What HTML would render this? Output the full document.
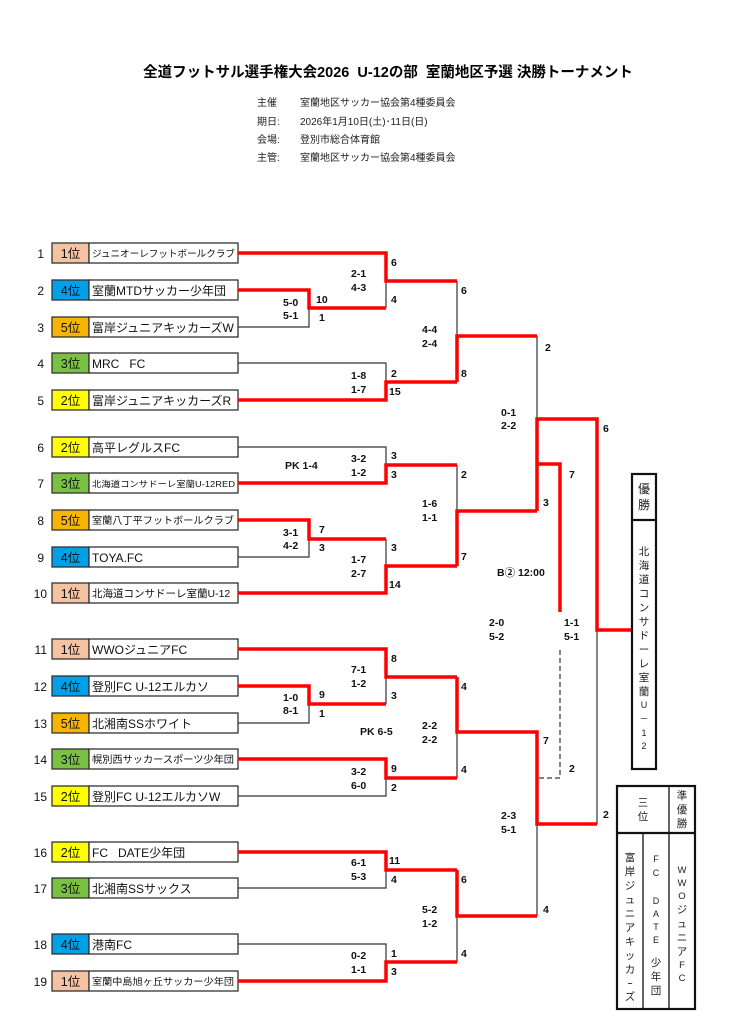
<!DOCTYPE html>
<html><head><meta charset="utf-8"><style>
body{margin:0;background:#fff;}
svg text{font-family:"Liberation Sans","Noto Sans CJK JP",sans-serif;}
.s{font-size:10.5px;font-weight:bold;fill:#111}
.n{font-size:12px;fill:#111}
.r{font-size:12.5px;fill:#111}
.t{font-size:12px;fill:#111}
.v{font-size:10.5px;fill:#222}
</style></head><body>
<svg width="746" height="1024" viewBox="0 0 746 1024" xmlns="http://www.w3.org/2000/svg">
<text x="388" y="77" text-anchor="middle" style="font-size:14.5px;font-weight:bold">全道フットサル選手権大会2026&#160;&#160;U-12の部&#160;&#160;室蘭地区予選 決勝トーナメント</text>
<g style="font-size:10px" fill="#222">
<text x="257" y="106">主催</text><text x="300" y="106">室蘭地区サッカー協会第4種委員会</text>
<text x="257" y="125">期日:</text><text x="300" y="125">2026年1月10日(土)･11日(日)</text>
<text x="257" y="143">会場:</text><text x="300" y="143">登別市総合体育館</text>
<text x="257" y="161">主管:</text><text x="300" y="161">室蘭地区サッカー協会第4種委員会</text>
</g>

<g stroke="#333" stroke-width="1.3">
<rect x="52" y="243" width="37" height="20" fill="#f4c3a4"/><rect x="89" y="243" width="149" height="20" fill="#fff"/>
<rect x="52" y="280" width="37" height="20" fill="#00a0e9"/><rect x="89" y="280" width="149" height="20" fill="#fff"/>
<rect x="52" y="317" width="37" height="20" fill="#f7b500"/><rect x="89" y="317" width="149" height="20" fill="#fff"/>
<rect x="52" y="353" width="37" height="20" fill="#7ac143"/><rect x="89" y="353" width="149" height="20" fill="#fff"/>
<rect x="52" y="390" width="37" height="20" fill="#ffff00"/><rect x="89" y="390" width="149" height="20" fill="#fff"/>
<rect x="52" y="437" width="37" height="20" fill="#ffff00"/><rect x="89" y="437" width="149" height="20" fill="#fff"/>
<rect x="52" y="473" width="37" height="20" fill="#7ac143"/><rect x="89" y="473" width="149" height="20" fill="#fff"/>
<rect x="52" y="510" width="37" height="20" fill="#f7b500"/><rect x="89" y="510" width="149" height="20" fill="#fff"/>
<rect x="52" y="547" width="37" height="20" fill="#00a0e9"/><rect x="89" y="547" width="149" height="20" fill="#fff"/>
<rect x="52" y="583" width="37" height="20" fill="#f4c3a4"/><rect x="89" y="583" width="149" height="20" fill="#fff"/>
<rect x="52" y="639" width="37" height="20" fill="#f4c3a4"/><rect x="89" y="639" width="149" height="20" fill="#fff"/>
<rect x="52" y="676" width="37" height="20" fill="#00a0e9"/><rect x="89" y="676" width="149" height="20" fill="#fff"/>
<rect x="52" y="713" width="37" height="20" fill="#f7b500"/><rect x="89" y="713" width="149" height="20" fill="#fff"/>
<rect x="52" y="749" width="37" height="20" fill="#7ac143"/><rect x="89" y="749" width="149" height="20" fill="#fff"/>
<rect x="52" y="786" width="37" height="20" fill="#ffff00"/><rect x="89" y="786" width="149" height="20" fill="#fff"/>
<rect x="52" y="842" width="37" height="20" fill="#ffff00"/><rect x="89" y="842" width="149" height="20" fill="#fff"/>
<rect x="52" y="878" width="37" height="20" fill="#7ac143"/><rect x="89" y="878" width="149" height="20" fill="#fff"/>
<rect x="52" y="934" width="37" height="20" fill="#00a0e9"/><rect x="89" y="934" width="149" height="20" fill="#fff"/>
<rect x="52" y="971" width="37" height="20" fill="#f4c3a4"/><rect x="89" y="971" width="149" height="20" fill="#fff"/>
</g>
<g class="n" text-anchor="end">
<text x="44" y="258">1</text><text x="44" y="295">2</text><text x="44" y="332">3</text><text x="44" y="368">4</text><text x="44" y="405">5</text>
<text x="44" y="452">6</text><text x="44" y="488">7</text><text x="44" y="525">8</text><text x="44" y="562">9</text><text x="47" y="598">10</text>
<text x="47" y="654">11</text><text x="47" y="691">12</text><text x="47" y="728">13</text><text x="47" y="764">14</text><text x="47" y="801">15</text>
<text x="47" y="857">16</text><text x="47" y="893">17</text><text x="47" y="949">18</text><text x="47" y="986">19</text>
</g>
<g class="r" text-anchor="middle">
<text x="70.5" y="258">1位</text><text x="70.5" y="295">4位</text><text x="70.5" y="332">5位</text><text x="70.5" y="368">3位</text><text x="70.5" y="405">2位</text>
<text x="70.5" y="452">2位</text><text x="70.5" y="488">3位</text><text x="70.5" y="525">5位</text><text x="70.5" y="562">4位</text><text x="70.5" y="598">1位</text>
<text x="70.5" y="654">1位</text><text x="70.5" y="691">4位</text><text x="70.5" y="728">5位</text><text x="70.5" y="764">3位</text><text x="70.5" y="801">2位</text>
<text x="70.5" y="857">2位</text><text x="70.5" y="893">3位</text><text x="70.5" y="949">4位</text><text x="70.5" y="986">1位</text>
</g>
<g class="t">
<text x="92" y="257" style="font-size:9.7px" textLength="143" lengthAdjust="spacingAndGlyphs">ジュニオーレフットボールクラブ</text>
<text x="92" y="295">室蘭MTDサッカー少年団</text>
<text x="92" y="332">富岸ジュニアキッカーズW</text>
<text x="92" y="368">MRC&#160;&#160;&#160;FC</text>
<text x="92" y="405">富岸ジュニアキッカーズR</text>
<text x="92" y="452">高平レグルスFC</text>
<text x="92" y="487" style="font-size:8.5px" textLength="143" lengthAdjust="spacingAndGlyphs">北海道コンサドーレ室蘭U-12RED</text>
<text x="92" y="524" style="font-size:10px" textLength="142" lengthAdjust="spacingAndGlyphs">室蘭八丁平フットボールクラブ</text>
<text x="92" y="562">TOYA.FC</text>
<text x="92" y="597" style="font-size:10.5px">北海道コンサドーレ室蘭U-12</text>
<text x="92" y="654">WWOジュニアFC</text>
<text x="92" y="691">登別FC U-12エルカソ</text>
<text x="92" y="728">北湘南SSホワイト</text>
<text x="92" y="763" style="font-size:10px" textLength="142" lengthAdjust="spacingAndGlyphs">幌別西サッカースポーツ少年団</text>
<text x="92" y="801">登別FC U-12エルカソW</text>
<text x="92" y="857">FC&#160;&#160;&#160;DATE少年団</text>
<text x="92" y="893">北湘南SSサックス</text>
<text x="92" y="949">港南FC</text>
<text x="92" y="985" style="font-size:9.5px" textLength="142" lengthAdjust="spacingAndGlyphs">室蘭中島旭ヶ丘サッカー少年団</text>
</g>

<g stroke="#333" stroke-width="1.2" fill="none">
<polyline points="238,327 309,327 309,308"/>
<line x1="386" y1="281" x2="386" y2="308"/>
<polyline points="238,363 386,363 386,382"/>
<line x1="457" y1="281" x2="457" y2="336"/>
<polyline points="238,447 386,447 386,465"/>
<polyline points="238,557 309,557 309,539"/>
<line x1="386" y1="539" x2="386" y2="566"/>
<line x1="457" y1="465" x2="457" y2="511"/>
<line x1="537" y1="336" x2="537" y2="419"/>
<polyline points="238,723 309,723 309,704"/>
<line x1="386" y1="677" x2="386" y2="704"/>
<polyline points="238,796 386,796 386,778"/>
<line x1="457" y1="732" x2="457" y2="778"/>
<polyline points="238,888 386,888 386,870"/>
<polyline points="238,944 386,944 386,962"/>
<line x1="457" y1="916" x2="457" y2="962"/>
<line x1="537" y1="824" x2="537" y2="916"/>
<line x1="597" y1="630" x2="597" y2="824"/>
</g>
<g stroke="#333" stroke-width="1.2" fill="none" stroke-dasharray="5,3">
<polyline points="560,650 560,778 537,778"/>
</g>

<g stroke="#ff0000" stroke-width="3.5" fill="none" stroke-linejoin="miter">
<polyline points="238,290 309,290 309,308 386,308"/>
<polyline points="238,253 386,253 386,281 457,281"/>
<polyline points="238,400 386,400 386,382 457,382"/>
<polyline points="457,382 457,336 537,336"/>
<polyline points="238,483 386,483 386,465 457,465"/>
<polyline points="238,520 309,520 309,539 386,539"/>
<polyline points="238,593 386,593 386,566 457,566"/>
<polyline points="457,566 457,511 537,511"/>
<polyline points="537,511 537,419 597,419 597,630 632,630"/>
<polyline points="537,464 560,464 560,612"/>
<polyline points="238,686 309,686 309,704 386,704"/>
<polyline points="238,649 386,649 386,677 457,677"/>
<polyline points="238,759 386,759 386,778 457,778"/>
<polyline points="457,677 457,732 537,732 537,824 597,824"/>
<polyline points="238,852 386,852 386,870 457,870"/>
<polyline points="238,981 386,981 386,962 457,962"/>
<polyline points="457,870 457,916 537,916"/>
</g>

<g class="s">
<text x="283" y="306">5-0</text><text x="283" y="319">5-1</text><text x="316" y="303">10</text><text x="319" y="321">1</text>
<text x="351" y="277">2-1</text><text x="351" y="291">4-3</text><text x="391" y="266">6</text><text x="391" y="303">4</text>
<text x="351" y="379">1-8</text><text x="351" y="393">1-7</text><text x="391" y="377">2</text><text x="389" y="395">15</text>
<text x="422" y="333">4-4</text><text x="422" y="347">2-4</text><text x="461" y="294">6</text><text x="461" y="377">8</text>
<text x="285" y="469">PK 1-4</text><text x="351" y="462">3-2</text><text x="351" y="476">1-2</text><text x="391" y="459">3</text><text x="391" y="478">3</text>
<text x="283" y="536">3-1</text><text x="283" y="549">4-2</text><text x="319" y="533">7</text><text x="319" y="551">3</text>
<text x="351" y="563">1-7</text><text x="351" y="577">2-7</text><text x="391" y="551">3</text><text x="389" y="588">14</text>
<text x="422" y="507">1-6</text><text x="422" y="521">1-1</text><text x="461" y="478">2</text><text x="461" y="560">7</text>
<text x="545" y="351">2</text><text x="501" y="416">0-1</text><text x="501" y="429">2-2</text><text x="603" y="432">6</text><text x="569" y="478">7</text><text x="543" y="506">3</text>
<text x="497" y="576">B② 12:00</text>
<text x="489" y="626">2-0</text><text x="489" y="640">5-2</text><text x="564" y="626">1-1</text><text x="564" y="640">5-1</text>
<text x="543" y="744">7</text><text x="569" y="772">2</text><text x="603" y="818">2</text><text x="501" y="819">2-3</text><text x="501" y="833">5-1</text><text x="543" y="913">4</text>
<text x="283" y="701">1-0</text><text x="283" y="714">8-1</text><text x="319" y="698">9</text><text x="319" y="717">1</text>
<text x="351" y="673">7-1</text><text x="351" y="687">1-2</text><text x="391" y="662">8</text><text x="391" y="699">3</text>
<text x="360" y="735">PK 6-5</text><text x="422" y="729">2-2</text><text x="422" y="743">2-2</text><text x="461" y="690">4</text><text x="461" y="773">4</text>
<text x="351" y="775">3-2</text><text x="351" y="789">6-0</text><text x="391" y="772">9</text><text x="391" y="791">2</text>
<text x="351" y="866">6-1</text><text x="351" y="880">5-3</text><text x="389" y="864">11</text><text x="391" y="883">4</text>
<text x="422" y="913">5-2</text><text x="422" y="927">1-2</text><text x="461" y="883">6</text><text x="461" y="957">4</text>
<text x="351" y="959">0-2</text><text x="351" y="973">1-1</text><text x="391" y="957">1</text><text x="391" y="975">3</text>
</g>

<g stroke="#111" stroke-width="2.2" fill="none">
<rect x="632" y="474" width="24" height="295"/>
<line x1="632" y1="520" x2="656" y2="520"/>
<rect x="617" y="786" width="78" height="223"/>
<line x1="617" y1="833" x2="695" y2="833"/>
<line x1="669" y1="786" x2="669" y2="1009" stroke-width="1.3"/>
<line x1="643" y1="833" x2="643" y2="1009" stroke-width="1.3"/>
</g>
<g class="v" text-anchor="middle" style="font-size:12px">
<text x="644" y="493">優</text><text x="644" y="509">勝</text>
</g>
<g class="v" text-anchor="middle">
<text x="644" y="555">北</text><text x="644" y="569">海</text><text x="644" y="583">道</text><text x="644" y="597">コ</text><text x="644" y="611">ン</text><text x="644" y="625">サ</text><text x="644" y="639">ド</text><text x="644" y="653">ー</text><text x="644" y="667">レ</text><text x="644" y="681">室</text><text x="644" y="695">蘭</text><text x="644" y="708" style="font-size:9px">U</text><text x="644" y="722" style="font-size:9px">－</text><text x="644" y="736" style="font-size:9px">1</text><text x="644" y="749" style="font-size:9px">2</text>
<text x="643" y="806">三</text><text x="643" y="820">位</text>
<text x="682" y="799">準</text><text x="682" y="813">優</text><text x="682" y="827">勝</text>
<text x="630" y="861">富</text><text x="630" y="875">岸</text><text x="630" y="889">ジ</text><text x="630" y="903">ュ</text><text x="630" y="917">ニ</text><text x="630" y="931">ア</text><text x="630" y="945">キ</text><text x="630" y="959">ッ</text><text x="630" y="973">カ</text><text x="630" y="987">ｰ</text><text x="630" y="1000">ズ</text>
<text x="656" y="862" style="font-size:9px">F</text><text x="656" y="876" style="font-size:9px">C</text><text x="656" y="904" style="font-size:9px">D</text><text x="656" y="917" style="font-size:9px">A</text><text x="656" y="930" style="font-size:9px">T</text><text x="656" y="943" style="font-size:9px">E</text><text x="656" y="966">少</text><text x="656" y="980">年</text><text x="656" y="994">団</text>
<text x="682" y="873" style="font-size:9.5px">W</text><text x="682" y="886" style="font-size:9.5px">W</text><text x="682" y="899" style="font-size:9.5px">O</text><text x="682" y="913">ジ</text><text x="682" y="927">ュ</text><text x="682" y="941">ニ</text><text x="682" y="955">ア</text><text x="682" y="968" style="font-size:9.5px">F</text><text x="682" y="981" style="font-size:9.5px">C</text>
</g>
</svg>
</body></html>
